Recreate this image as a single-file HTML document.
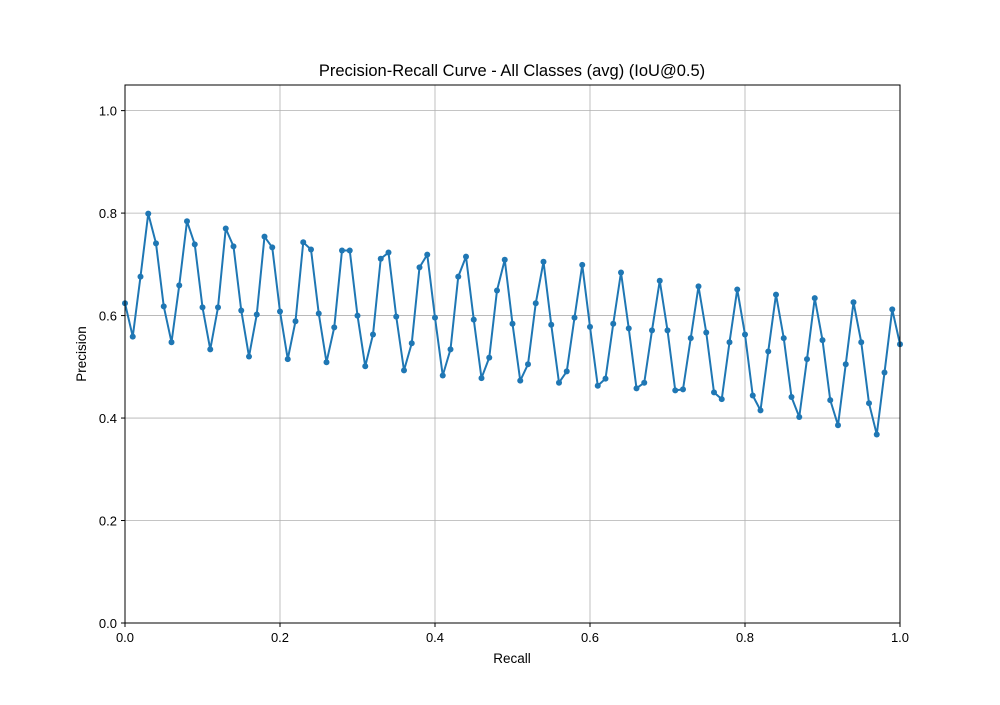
<!DOCTYPE html>
<html><head><meta charset="utf-8"><style>
body{margin:0;background:#fff}
text{font-family:"Liberation Sans","DejaVu Sans",sans-serif;fill:#000}
</style></head><body>
<svg id="chart" width="1000" height="700" xmlns="http://www.w3.org/2000/svg">
<rect width="1000" height="700" fill="#fff"/>
<g id="grid"></g>
<g id="ticks"></g>
<g id="series"></g>
<rect x="125" y="85" width="775" height="538" fill="none" stroke="#000" stroke-width="1"/>
<text x="512" y="76" font-size="16.5" text-anchor="middle">Precision-Recall Curve - All Classes (avg) (IoU@0.5)</text>
<text x="512" y="663" font-size="13.5" text-anchor="middle">Recall</text>
<text x="86" y="354" font-size="13.5" text-anchor="middle" transform="rotate(-90 86 354)">Precision</text>
</svg>
<script>
const precision=[0.624,0.559,0.676,0.799,0.741,0.618,0.548,0.659,0.784,0.739,
0.616,0.534,0.616,0.770,0.735,0.610,0.520,0.602,0.754,0.733,
0.608,0.515,0.589,0.743,0.729,0.604,0.509,0.577,0.727,0.727,
0.600,0.501,0.563,0.711,0.723,0.598,0.493,0.546,0.694,0.719,
0.596,0.483,0.534,0.676,0.715,0.592,0.478,0.518,0.649,0.709,
0.584,0.473,0.505,0.624,0.705,0.582,0.469,0.491,0.596,0.699,
0.578,0.463,0.477,0.584,0.684,0.575,0.458,0.469,0.571,0.668,
0.571,0.454,0.456,0.556,0.657,0.567,0.450,0.437,0.548,0.651,
0.563,0.444,0.415,0.530,0.641,0.556,0.441,0.402,0.515,0.634,
0.552,0.435,0.386,0.505,0.626,0.548,0.429,0.368,0.489,0.612,0.544];
const recall=precision.map((_,i)=>i/100);
const xTicks=[0,0.2,0.4,0.6,0.8,1.0];
const yTicks=[0,0.2,0.4,0.6,0.8,1.0];
const X0=125,X1=900,Y0=623,Y1=85,YMAX=1.05;
const sx=v=>X0+v*(X1-X0);
const sy=v=>Y0-v/YMAX*(Y0-Y1);
const NS='http://www.w3.org/2000/svg';
function mk(t,a,p){const e=document.createElementNS(NS,t);for(const k in a)e.setAttribute(k,a[k]);p.appendChild(e);return e;}
const grid=document.getElementById('grid'),ticks=document.getElementById('ticks'),ser=document.getElementById('series');
xTicks.forEach(v=>{
 const x=sx(v);
 const g=mk('line',{x1:x,x2:x,y1:Y1,y2:Y0,stroke:'#b0b0b0','stroke-width':0.8},grid);
 
 
 const t=mk('line',{x1:x,x2:x,y1:Y0,y2:Y0+4,stroke:'#000'},ticks);
 
 
 const l=mk('text',{x:x,y:Y0+19,'font-size':13,'text-anchor':'middle'},ticks);
 l.textContent=v.toFixed(1);
 
 
});
yTicks.forEach(v=>{
 const y=sy(v);
 const g=mk('line',{x1:X0,x2:X1,y1:y,y2:y,stroke:'#b0b0b0','stroke-width':0.8},grid);
 
 
 const t=mk('line',{x1:X0-4,x2:X0,y1:y,y2:y,stroke:'#000'},ticks);
 
 
 const l=mk('text',{x:X0-8,y:y+5,'font-size':13,'text-anchor':'end'},ticks);
 l.textContent=v.toFixed(1);
 
 
});
const pts=precision.map((p,i)=>sx(recall[i]).toFixed(2)+','+sy(p).toFixed(2)).join(' ');
const line=mk('polyline',{points:pts,fill:'none',stroke:'#1f77b4','stroke-width':2,'stroke-linejoin':'round'},ser);


precision.forEach((p,i)=>{
 const c=mk('circle',{cx:sx(recall[i]),cy:sy(p),r:3,fill:'#1f77b4'},ser);
 
 
});
</script>
</body></html>
